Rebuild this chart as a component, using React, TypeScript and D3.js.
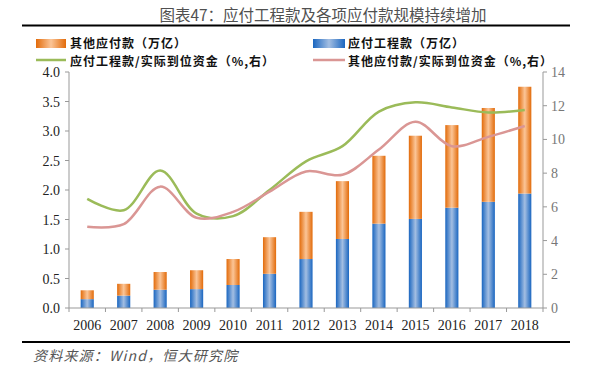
import React from 'react';
import * as d3 from 'd3';

const years = ['2006', '2007', '2008', '2009', '2010', '2011', '2012', '2013', '2014', '2015', '2016', '2017', '2018'];
// 应付工程款（万亿）
const engPayable = [0.15, 0.21, 0.31, 0.32, 0.39, 0.58, 0.83, 1.17, 1.43, 1.51, 1.70, 1.80, 1.94];
// 其他应付款（万亿）
const otherPayable = [0.15, 0.20, 0.30, 0.32, 0.44, 0.62, 0.80, 0.98, 1.15, 1.41, 1.40, 1.59, 1.81];
// 应付工程款/实际到位资金（%）
const engRatio = [6.47, 5.8, 8.15, 5.6, 5.45, 7.0, 8.7, 9.6, 11.65, 12.2, 11.9, 11.6, 11.75];
// 其他应付款/实际到位资金（%）
const otherRatio = [4.82, 4.97, 7.2, 5.35, 5.7, 6.9, 8.1, 7.9, 9.4, 11.05, 9.6, 10.15, 10.8];

const leftTicks = [0, 0.5, 1, 1.5, 2, 2.5, 3, 3.5, 4];
const rightTicks = [0, 2, 4, 6, 8, 10, 12, 14];

const cjk = '"Noto Sans CJK SC", sans-serif';
const serif = '"Liberation Serif", "DejaVu Serif", serif';

export default function App() {
  const W = 592, H = 372;
  const left = 69, right = 543, top = 72, bottom = 308;

  const x = d3.scaleBand().domain(years).range([left, right]).paddingInner(0.64).paddingOuter(0.32);
  const xc = d3.scaleBand().domain(years).range([left, right]);
  const y = d3.scaleLinear().domain([0, 4]).range([bottom, top]);
  const y2 = d3.scaleLinear().domain([0, 14]).range([bottom, top]);

  const line = d3.line<number>()
    .x((_, i) => (xc(years[i]) as number) + xc.bandwidth() / 2)
    .y(d => y2(d))
    .curve(d3.curveCatmullRom.alpha(0.5));

  const legendText = { fontFamily: cjk, fontSize: 12, fontWeight: 'bold', fill: '#111', letterSpacing: 1 } as const;

  return (
    <svg width={W} height={H} style={{ position: 'absolute', left: 0, top: 0 }}>
      <defs>
        <linearGradient id="gOrange" x1="0" x2="1" y1="0" y2="0">
          <stop offset="0" stopColor="#E26B0A" />
          <stop offset="0.5" stopColor="#FBC597" />
          <stop offset="1" stopColor="#E26B0A" />
        </linearGradient>
        <linearGradient id="gBlue" x1="0" x2="1" y1="0" y2="0">
          <stop offset="0" stopColor="#1A66C0" />
          <stop offset="0.5" stopColor="#A3BEE2" />
          <stop offset="1" stopColor="#1A66C0" />
        </linearGradient>
      </defs>
      <rect width={W} height={H} fill="#fff" />

      {/* title */}
      <text x={323} y={21} textAnchor="middle" fontFamily={cjk} fontSize={15.5} fill="#505050">
        图表47：应付工程款及各项应付款规模持续增加
      </text>
      <line x1={22} x2={570} y1={25.5} y2={25.5} stroke="#000" strokeWidth={2} />

      {/* legend */}
      <rect x={36} y={39} width={30} height={9} fill="url(#gOrange)" />
      <text x={70} y={47.5} {...legendText}>其他应付款（万亿）</text>
      <rect x={313} y={39} width={32} height={9} fill="url(#gBlue)" />
      <text x={348} y={47.5} {...legendText}>应付工程款（万亿）</text>
      <line x1={36} x2={66} y1={60} y2={60} stroke="#9BBB59" strokeWidth={2.5} />
      <text x={70} y={65.5} {...legendText}>应付工程款/实际到位资金（%,右）</text>
      <line x1={313} x2={345} y1={60} y2={60} stroke="#DA9694" strokeWidth={2.5} />
      <text x={348} y={65.5} {...legendText}>其他应付款/实际到位资金（%,右）</text>

      {/* bars */}
      {years.map((yr, i) => (
        <g key={yr}>
          <rect x={x(yr)} y={y(engPayable[i])} width={x.bandwidth()} height={bottom - y(engPayable[i])} fill="url(#gBlue)" />
          <rect x={x(yr)} y={y(engPayable[i] + otherPayable[i])} width={x.bandwidth()}
            height={y(engPayable[i]) - y(engPayable[i] + otherPayable[i])} fill="url(#gOrange)" />
        </g>
      ))}

      {/* lines */}
      <path d={line(engRatio) || ''} fill="none" stroke="#9BBB59" strokeWidth={2.5} />
      <path d={line(otherRatio) || ''} fill="none" stroke="#DA9694" strokeWidth={2.5} />

      {/* axes */}
      <g stroke="#999" strokeWidth={1}>
        <line x1={left} x2={left} y1={top} y2={bottom} />
        <line x1={right} x2={right} y1={top} y2={bottom} />
        <line x1={left} x2={right} y1={bottom} y2={bottom} />
        {leftTicks.map(t => <line key={'l' + t} x1={left - 4} x2={left} y1={y(t)} y2={y(t)} />)}
        {rightTicks.map(t => <line key={'r' + t} x1={right} x2={right + 4} y1={y2(t)} y2={y2(t)} />)}
        {years.map(yr => <line key={'x' + yr} x1={xc(yr)} x2={xc(yr)} y1={bottom} y2={bottom + 4} />)}
        <line x1={right} x2={right} y1={bottom} y2={bottom + 4} />
      </g>
      {leftTicks.map(t => (
        <text key={'lt' + t} x={left - 9} y={y(t) + 5} textAnchor="end" fontFamily={serif} fontSize={14} fill="#222">
          {d3.format('.1f')(t)}
        </text>
      ))}
      {rightTicks.map(t => (
        <text key={'rt' + t} x={right + 8} y={y2(t) + 5} fontFamily={serif} fontSize={14} fill="#777">
          {t}
        </text>
      ))}
      {years.map(yr => (
        <text key={'xt' + yr} x={(xc(yr) as number) + xc.bandwidth() / 2} y={330} textAnchor="middle" fontFamily={serif} fontSize={14} fill="#222">
          {yr}
        </text>
      ))}

      {/* source */}
      <line x1={22} x2={570} y1={342} y2={342} stroke="#000" strokeWidth={2} />
      <text x={33} y={361} fontFamily={cjk} fontSize={14} fontStyle="italic" fill="#555" letterSpacing={1.2}>资料来源：Wind，恒大研究院</text>
    </svg>
  );
}
